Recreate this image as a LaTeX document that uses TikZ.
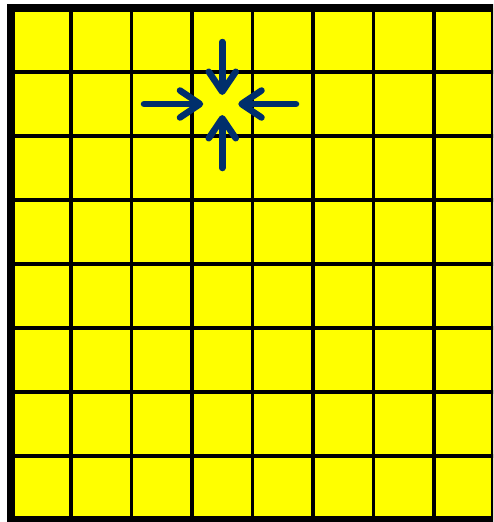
\documentclass[tikz,border=0pt]{standalone}
\usepackage{xcolor}
\usepackage{tikz}
\usetikzlibrary{arrows.meta}

\definecolor{navy}{RGB}{0,47,108}
\definecolor{cellyellow}{RGB}{255,255,0}

\begin{document}
\begin{tikzpicture}[
    x=1pt, y=-1pt,
    gridline/.style={
        draw=black,
        line width=3.5pt
    },
    frameline/.style={
        draw=black,
        line width=8pt
    },
    arrow/.style={
        draw=navy,
        line width=6.5pt,
        line cap=round,
        -{Straight Barb[length=20pt, width=27pt, round]}
    }
]
\useasboundingbox (0,0) rectangle (493,522);
\clip (0,0) rectangle (493,522);
\fill[cellyellow] (10.5,8) rectangle (494.5,520);
% grid
\foreach \i in {1,...,7} {
    \draw[gridline] (10.5+60.5*\i,8) -- (10.5+60.5*\i,520);
    \draw[gridline] (10.5,8+64*\i) -- (494.5,8+64*\i);
}
\draw[frameline] (10.5,8) rectangle (494.5,520);
% target cell and arrows
\coordinate (cell) at (222.25,104);
\coordinate (west) at (144,104);
\coordinate (east) at (296,104);
\coordinate (north) at (222.25,42);
\coordinate (south) at (222.25,168);
\draw[arrow] (west) -- ([xshift=-19pt]cell);
\draw[arrow] (east) -- ([xshift=16pt]cell);
\draw[arrow] (north) -- ([yshift=9pt]cell);
\draw[arrow] (south) -- ([yshift=-11pt]cell);
\end{tikzpicture}
\end{document}
